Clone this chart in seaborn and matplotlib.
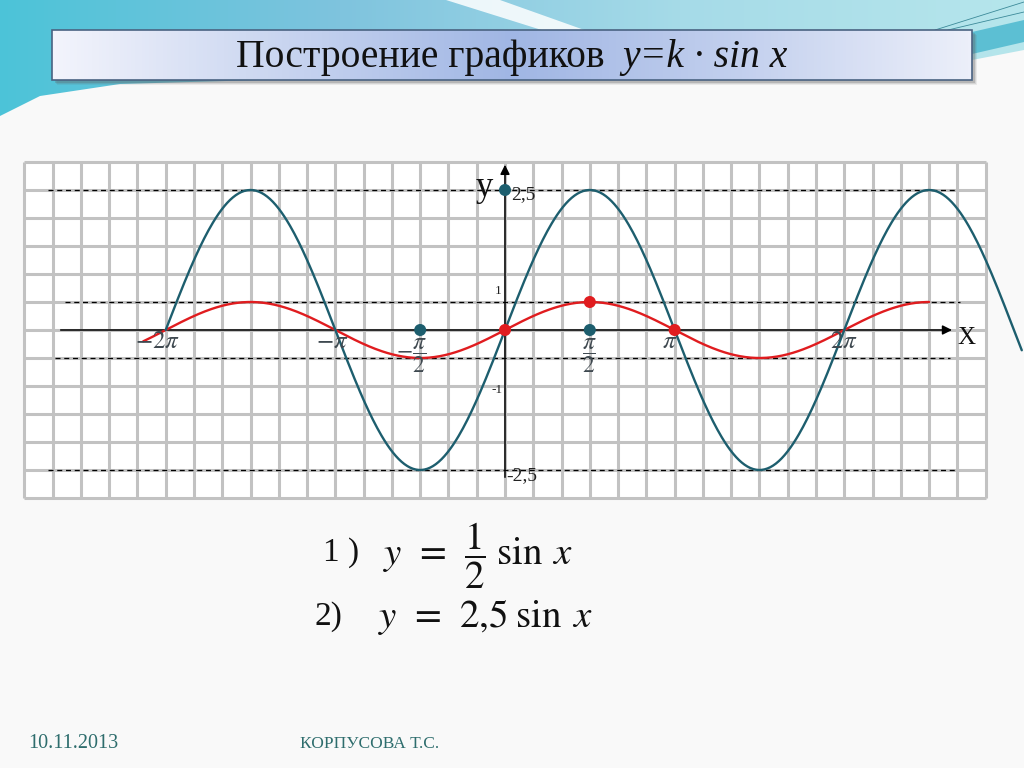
import numpy as np
import pandas as pd
import matplotlib
matplotlib.use("Agg")
import matplotlib.pyplot as plt
import seaborn as sns
from matplotlib.patches import Polygon, Rectangle
from matplotlib.colors import LinearSegmentedColormap

sns.set_theme(style="white")
plt.rcParams['font.family'] = ['Liberation Serif', 'DejaVu Serif']
plt.rcParams['mathtext.fontset'] = 'stix'

# --- data ---
curve_names = ['y = 1/2 sin x', 'y = 2,5 sin x']
k_values = [0.5, 2.5]
x_start = [-6.70, -2 * np.pi]
x_end = [2.5 * np.pi, 9.57]
curve_colors = ['#e01c1f', '#1d5e6e']

blue_pts_x = [0, -np.pi / 2, np.pi / 2]
blue_pts_y = [2.5, 0, 0]
red_pts_x = [0, np.pi / 2, np.pi]
red_pts_y = [0, 0.5, 0]

guide_levels = [2.5, 0.5, -0.5, -2.5]
guide_start = [-8.46, -8.15, -8.33, -8.46]
guide_end = [8.33, 8.43, 8.24, 8.33]

x_tick_pos = [-2 * np.pi, -np.pi, -np.pi / 2, np.pi / 2, np.pi, 2 * np.pi]
x_tick_text = [r'$-2\pi$', r'$-\pi$', r'$-\dfrac{\pi}{2}$', r'$\dfrac{\pi}{2}$', r'$\pi$', r'$2\pi$']
y_tick_text = ['2,5', '1', '-1', '-2,5']
y_tick_pos = [2.42, 0.70, -1.07, -2.6]

title_plain = 'Построение графиков'
title_formula = 'y=k · sin x'
formula_nums = ['1 )', '2)']
formula_text = [r'$y\;\,=\;\,\dfrac{1}{2}\;\sin\;x$', r'$y\;\,=\;\,2{,}5\;\sin\;x$']
footer_date = '10.11.2013'
footer_author = 'КОРПУСОВА Т.С.'

# --- figure ---
fig = plt.figure(figsize=(10.24, 7.68), dpi=100)
fig.patch.set_facecolor('#f9f9f9')

# background / decoration axes in pixel coordinates
bg = fig.add_axes([0, 0, 1, 1], zorder=0)
bg.set_xlim(0, 1024)
bg.set_ylim(768, 0)
bg.axis('off')

top_cmap = LinearSegmentedColormap.from_list('top', ['#4cc3d8', '#7fc4de', '#a6dbe8', '#b6e6ec'])
top_poly = Polygon([(0, 0), (1024, 0), (1024, 50), (972, 60), (120, 84), (40, 96), (0, 116)],
                   closed=True, facecolor='none', edgecolor='none')
bg.add_patch(top_poly)
grad = np.linspace(0, 1, 256).reshape(1, -1)
im = bg.imshow(grad, cmap=top_cmap, extent=(0, 1024, 120, 0), aspect='auto', zorder=1)
im.set_clip_path(top_poly)
bg.add_patch(Polygon([(446, 0), (500, 0), (590, 32), (548, 32)], closed=True,
                     facecolor='white', edgecolor='none', alpha=0.85, zorder=2))
bg.add_patch(Polygon([(972, 32), (1024, 20), (1024, 42), (972, 54)], closed=True,
                     facecolor='#5cbfd3', edgecolor='none', zorder=2))
bg.plot([935, 1024], [30, 2], color='#3c8a99', lw=0.6, zorder=2)
bg.plot([948, 1024], [30, 12], color='#3c8a99', lw=0.6, zorder=2)

# title box with shadow and gradient
for i, a in enumerate([0.10, 0.15, 0.25]):
    off = 5 - i
    bg.add_patch(Rectangle((52 + off, 30 + off), 920, 50, facecolor='#606060',
                           edgecolor='none', alpha=a, zorder=3))
title_cmap = LinearSegmentedColormap.from_list('title', ['#f3f4fc', '#c9d5f0', '#a0b6e4', '#c3d0ee', '#eceffa'])
bg.imshow(grad, cmap=title_cmap, extent=(52, 972, 80, 30), aspect='auto', zorder=4)
bg.add_patch(Rectangle((52, 30), 920, 50, facecolor='none', edgecolor='#4a6382', lw=1.2, zorder=5))
bg.text(605, 58, title_plain, fontsize=28.5, ha='right', va='center', color='#111111', zorder=6)
bg.text(622, 58, title_formula, fontsize=28.5, style='italic', ha='left', va='center',
        color='#111111', zorder=6)

# formulas under the chart
bg.text(323, 553, formula_nums[0], fontsize=24, ha='left', va='center', color='#111111')
bg.text(383, 556, formula_text[0], fontsize=28, ha='left', va='center', color='#111111')
bg.text(315, 617, formula_nums[1], fontsize=24, ha='left', va='center', color='#111111')
bg.text(378, 617, formula_text[1], fontsize=28, ha='left', va='center', color='#111111')

# footer
bg.text(28, 744, footer_date, fontsize=14.5, ha='left', va='center', color='#2e6d6d')
bg.text(300, 744, footer_author, fontsize=12.5, ha='left', va='center', color='#2e6d6d')

# --- math axes: 54 px per x unit, 56 px per y unit, origin at (505, 330) ---
ax = fig.add_axes([0, 0, 1, 1], zorder=1)
ax.patch.set_alpha(0)
ax.set_xlim(-505 / 54, 519 / 54)
ax.set_ylim(-438 / 56, 330 / 56)
ax.axis('off')

gx0, gx1 = -17 * np.pi / 6, 17 * np.pi / 6
ax.add_patch(Rectangle((gx0, -3), gx1 - gx0, 6, facecolor='white', edgecolor='none', zorder=0))
ax.vlines(np.arange(-17, 18) * np.pi / 6, -3, 3, color='#c2c2c2', lw=2.2, zorder=1)
ax.hlines(np.arange(-3, 3.01, 0.5), gx0, gx1, color='#c2c2c2', lw=2.2, zorder=1)

for lvl, s, e in zip(guide_levels, guide_start, guide_end):
    ax.plot([s, e], [lvl, lvl], color='black', lw=0.9, ls=(0, (4, 3)), zorder=2)

# coordinate axes with arrows
ax.annotate('', xy=(8.33, 0), xytext=(-8.28, 0),
            arrowprops=dict(arrowstyle='-|>', color='black', lw=1.1, mutation_scale=14), zorder=3)
ax.annotate('', xy=(0, 3.0), xytext=(0, -2.68),
            arrowprops=dict(arrowstyle='-|>', color='black', lw=1.1, mutation_scale=14), zorder=3)
ax.text(-0.38, 2.55, 'y', fontsize=25, ha='center', va='center', color='#111111')
ax.text(8.55, -0.15, 'X', fontsize=18, ha='center', va='center', color='#111111')

# curves
frames = []
for name, k, s, e in zip(curve_names, k_values, x_start, x_end):
    xs = np.linspace(s, e, 600)
    frames.append(pd.DataFrame({'x': xs, 'y': k * np.sin(xs), 'curve': name}))
df = pd.concat(frames, ignore_index=True)
sns.lineplot(data=df, x='x', y='y', hue='curve', palette=dict(zip(curve_names, curve_colors)),
             sort=False, estimator=None, lw=1.7, legend=False, ax=ax, zorder=4)
ax.axis('off')

sns.scatterplot(x=blue_pts_x, y=blue_pts_y, color=curve_colors[1], s=75, edgecolor='none', ax=ax, zorder=5)
sns.scatterplot(x=red_pts_x, y=red_pts_y, color=curve_colors[0], s=75, edgecolor='none', ax=ax, zorder=5)

# tick labels
x_tick_offsets = [-0.15, -0.05, -0.16, 0.0, -0.1, 0.0]
for pos, txt, off in zip(x_tick_pos, x_tick_text, x_tick_offsets):
    frac = 'frac' in txt
    ax.text(pos + off, -0.46 if frac else -0.22, txt, fontsize=17 if frac else 18,
            ha='center', va='center', color='#3f4950', zorder=6)
ax.text(0.12, y_tick_pos[0], y_tick_text[0], fontsize=14, ha='left', va='center', color='#222222')
ax.text(-0.07, y_tick_pos[1], y_tick_text[1], fontsize=9.5, ha='right', va='center', color='#222222')
ax.text(-0.05, y_tick_pos[2], y_tick_text[2], fontsize=9.5, ha='right', va='center', color='#222222')
ax.text(0.03, y_tick_pos[3], y_tick_text[3], fontsize=14, ha='left', va='center', color='#222222')

fig.savefig('out.png', dpi=100, facecolor=fig.get_facecolor())
